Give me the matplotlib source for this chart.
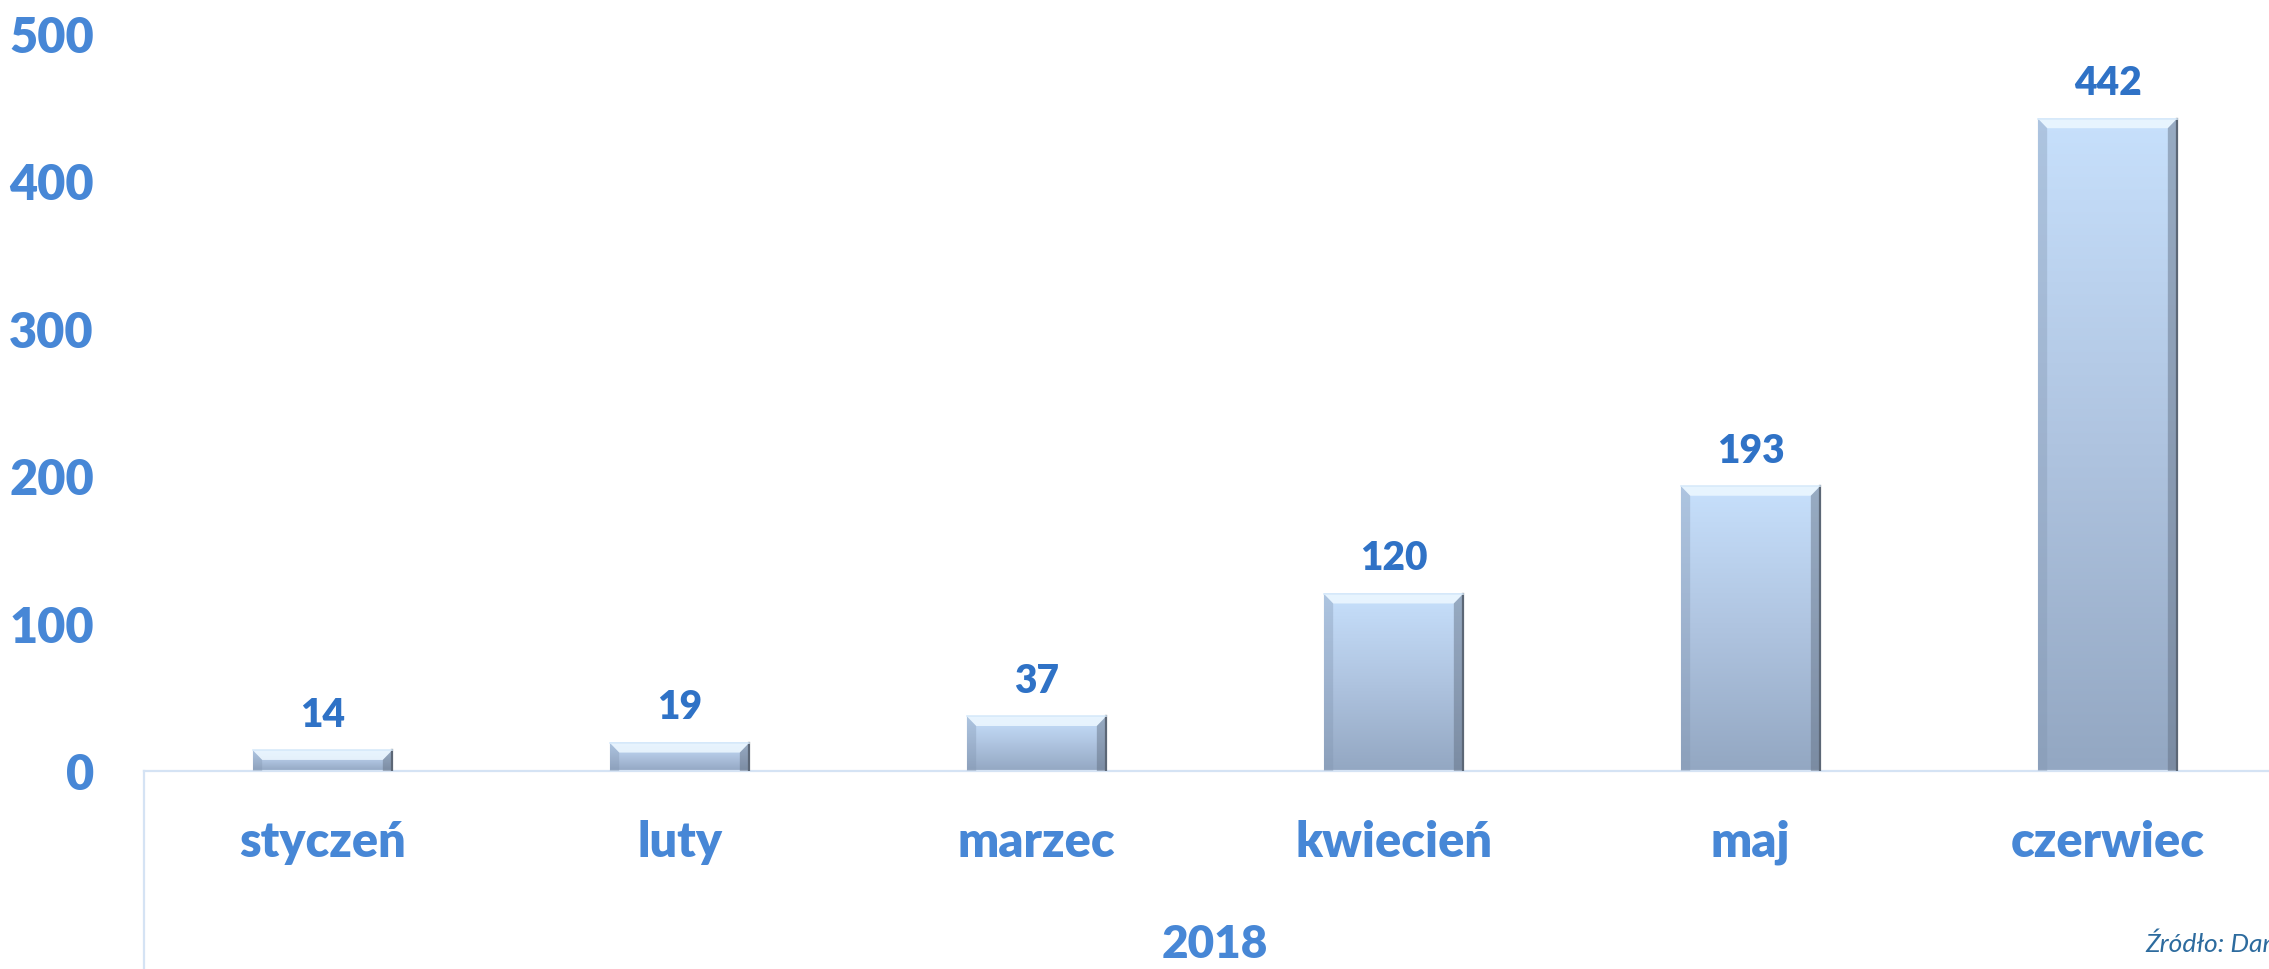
import numpy as np
import matplotlib.pyplot as plt
from matplotlib.colors import LinearSegmentedColormap
from matplotlib.patches import Polygon
from matplotlib.lines import Line2D

months = ['styczeń', 'luty', 'marzec', 'kwiecień', 'maj', 'czerwiec']
values = [14, 19, 37, 120, 193, 442]
year = '2018'
yticks = [0, 100, 200, 300, 400, 500]
source = 'Źródło: Dane'

plt.rcParams['font.family'] = ['Lato', 'DejaVu Sans']
tick_col = '#4787D6'
val_col = '#2F72C6'
wt = 'heavy'

fig = plt.figure(figsize=(22.69, 9.70), dpi=100)
ax = fig.add_axes([144/2269, 198/970, 2142/2269, 738/970])

x = np.arange(len(months))
bars = ax.bar(x, values, width=0.39, color='none', zorder=2)

cmap = LinearSegmentedColormap.from_list('bar', ['#93A7C2', '#AFC4E0', '#C7E0FC'])
grad = np.linspace(0, 1, 256).reshape(-1, 1)
dx, dy = 0.026, 6.5
for b in bars:
    x0, w, h = b.get_x(), b.get_width(), b.get_height()
    ax.imshow(grad, extent=[x0, x0 + w, 0, h], origin='lower', aspect='auto',
              cmap=cmap, zorder=2)
    # bevel
    ax.add_patch(Polygon([(x0, h), (x0 + w, h), (x0 + w - dx, h - dy), (x0 + dx, h - dy)],
                         closed=True, facecolor='#EEF8FF', edgecolor='none', alpha=0.85, zorder=3))
    ax.add_patch(Polygon([(x0, h), (x0 + dx, h - dy), (x0 + dx, 0), (x0, 0)],
                         closed=True, facecolor='#7F93AE', edgecolor='none', alpha=0.35, zorder=3))
    ax.add_patch(Polygon([(x0 + w, h), (x0 + w - dx, h - dy), (x0 + w - dx, 0), (x0 + w, 0)],
                         closed=True, facecolor='#5E6B7D', edgecolor='none', alpha=0.45, zorder=3))
    ax.plot([x0 + w, x0 + w], [0, h], color='#5C6776', lw=1.6, zorder=4)
    ax.plot([x0, x0 + w], [h, h], color='#D8EAFA', lw=1.2, zorder=4)
    ax.annotate(str(int(h)), (x0 + w / 2, h), xytext=(0, 26), textcoords='offset points',
                ha='center', va='center', fontsize=28, fontweight=wt, color=val_col)

ax.set_xlim(-0.5, len(months) - 0.5)
ax.set_ylim(0, 500)
ax.set_yticks(yticks)
ax.tick_params(axis='y', length=0, pad=36, labelsize=35, labelcolor=tick_col)
for lab in ax.get_yticklabels():
    lab.set_fontweight(wt)
ax.set_xticks([])
for s in ['top', 'right', 'left']:
    ax.spines[s].set_visible(False)
ax.spines['bottom'].set_color('#D5E3F4')
ax.spines['bottom'].set_linewidth(1.6)

for i, m in enumerate(months):
    ax.text(i, -85/738, m, transform=ax.get_xaxis_transform(), ha='center', va='baseline',
            fontsize=35, fontweight=wt, color=tick_col)
ax.text((len(months) - 1) / 2, -186/738, year, transform=ax.get_xaxis_transform(),
        ha='center', va='baseline', fontsize=33, fontweight=wt, color=tick_col)

fig.add_artist(Line2D([144/2269, 144/2269], [0, 198/970], color='#D5E3F4', lw=1.6))
fig.text(2145/2269, 18/970, source, ha='left', va='baseline', fontsize=19,
         style='italic', color='#2D6B9E')

fig.savefig('out.png', dpi=100)
